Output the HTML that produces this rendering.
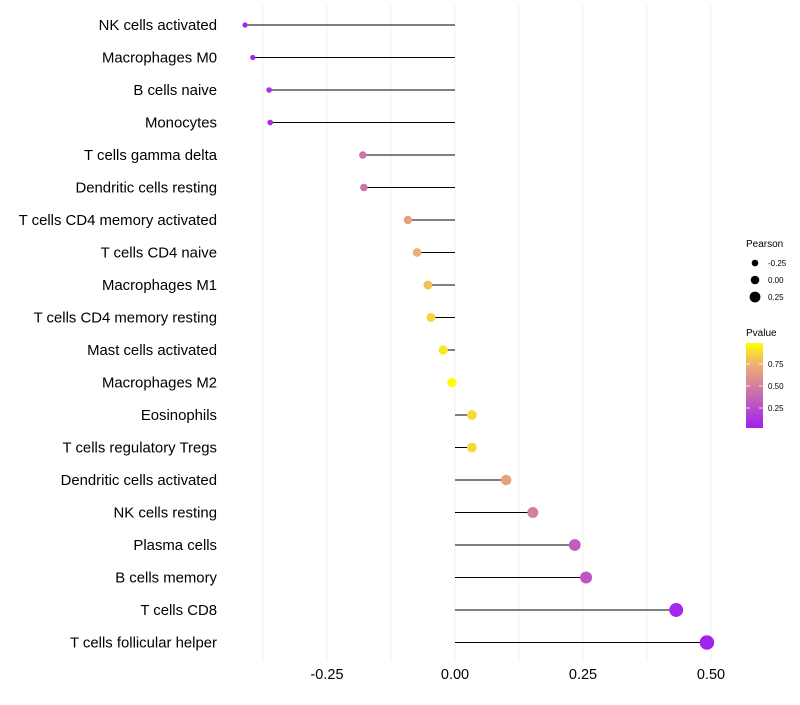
<!DOCTYPE html>
<html><head><meta charset="utf-8"><style>
body{margin:0;background:#fff;font-family:"Liberation Sans",sans-serif}
svg text{font-family:"Liberation Sans",sans-serif}
</style></head><body>
<svg id="chart" width="800" height="700">
<defs><linearGradient id="pg" x1="0" y1="1" x2="0" y2="0">
<stop offset="0" stop-color="#A020F0"/><stop offset="0.5" stop-color="#D4809E"/><stop offset="0.75" stop-color="#EDB070"/><stop offset="1" stop-color="#FFFF00"/>
</linearGradient></defs>
<g id="grid"></g>
<g id="marks"></g>
<g id="ylabels"></g>
<g id="xlabels"></g>
<g>
<text x="746" y="247" font-size="10">Pearson</text>
<circle cx="755" cy="263" r="3.3" fill="#000"/>
<text x="768" y="266" font-size="8">-0.25</text>
<circle cx="755" cy="280" r="4.3" fill="#000"/>
<text x="768" y="283" font-size="8">0.00</text>
<circle cx="755" cy="297" r="5.4" fill="#000"/>
<text x="768" y="300" font-size="8">0.25</text>
</g>
<g>
<text x="746" y="336" font-size="10">Pvalue</text>
<rect x="746" y="343" width="17" height="85" fill="url(#pg)"/>
<g stroke="#fff" stroke-width="0.8"><line x1="746" x2="750" y1="364" y2="364"/><line x1="759" x2="763" y1="364" y2="364"/><line x1="746" x2="750" y1="386" y2="386"/><line x1="759" x2="763" y1="386" y2="386"/><line x1="746" x2="750" y1="408" y2="408"/><line x1="759" x2="763" y1="408" y2="408"/></g>
<text x="768" y="367" font-size="8">0.75</text>
<text x="768" y="389" font-size="8">0.50</text>
<text x="768" y="411" font-size="8">0.25</text>
</g>
</svg>
<script>
const categories=["NK cells activated","Macrophages M0","B cells naive","Monocytes","T cells gamma delta","Dendritic cells resting","T cells CD4 memory activated","T cells CD4 naive","Macrophages M1","T cells CD4 memory resting","Mast cells activated","Macrophages M2","Eosinophils","T cells regulatory  Tregs ","Dendritic cells activated","NK cells resting","Plasma cells","B cells memory","T cells CD8","T cells follicular helper"];
const pearson=[-0.41,-0.395,-0.363,-0.361,-0.18,-0.178,-0.092,-0.074,-0.053,-0.047,-0.023,-0.006,0.033,0.033,0.1,0.152,0.234,0.256,0.432,0.492];
const pvalues=[0.04,0.06,0.1,0.1,0.45,0.45,0.68,0.74,0.8,0.86,0.92,0.98,0.88,0.88,0.68,0.5,0.33,0.3,0.06,0.04];
const xTicks=[-0.25,0,0.25,0.5];
const xTickLabels=["-0.25","0.00","0.25","0.50"];
const NS="http://www.w3.org/2000/svg";
const xs=v=>455+v*512;
const ys=i=>25+i*32.5;
function lerp(a,b,t){return a.map((c,k)=>Math.round(c+(b[k]-c)*t));}
function col(p){let t=Math.max(0,Math.min(1,(p-0.023)/(0.99-0.023)));
 const st=[[0,[160,32,240]],[0.5,[212,128,158]],[0.75,[237,176,112]],[1,[255,255,0]]];
 for(let k=1;k<st.length;k++){if(t<=st[k][0]){const c=lerp(st[k-1][1],st[k][1],(t-st[k-1][0])/(st[k][0]-st[k-1][0]));return `rgb(${c})`;}}
 return "rgb(255,255,0)";}
function mk(tag,attrs,parent){const e=document.createElementNS(NS,tag);for(const k in attrs)e.setAttribute(k,attrs[k]);parent.appendChild(e);return e;}
const grid=document.getElementById('grid'),marks=document.getElementById('marks'),yl=document.getElementById('ylabels'),xl=document.getElementById('xlabels');
[-0.375,-0.25,-0.125,0,0.125,0.25,0.375,0.5].forEach(v=>{
 const l=mk('line',{x1:xs(v),x2:xs(v),y1:5,y2:660,stroke:'#f0f0f0','stroke-width':1},grid);
 
 
});
categories.forEach((c,i)=>{
 const y=ys(i),x=xs(pearson[i]);
 const ln=mk('line',{x1:xs(0),x2:x,y1:y,y2:y,stroke:'#000','stroke-width':1},marks);
 
 
 const r=4.7+5.2*pearson[i];
 const p=mk('circle',{cx:x,cy:y,r:Math.max(2,r),fill:col(pvalues[i])},marks);
 
 
 const t=mk('text',{x:217,y:y+5,'text-anchor':'end','font-size':14.9,fill:'#000'},yl);
 t.textContent=c;
 
 
});
xTicks.forEach((v,i)=>{
 const t=mk('text',{x:xs(v),y:679,'text-anchor':'middle','font-size':14.5,fill:'#000'},xl);
 t.textContent=xTickLabels[i];
 
 
});
</script>
</body></html>
